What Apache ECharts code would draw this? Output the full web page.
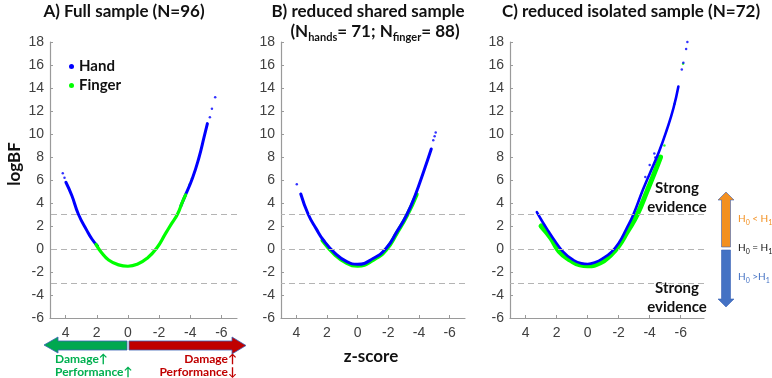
<!DOCTYPE html>
<html>
<head>
<meta charset="utf-8">
<script src="https://cdn.jsdelivr.net/npm/echarts@6/dist/echarts.min.js"></script>
<style>
  html, body { margin: 0; padding: 0; background: #fff; }
  #chart { width: 772px; height: 378px; }
</style>
</head>
<body>
<div id="chart"></div>
<script>
// tick labels
const xTicks = [4, 2, 0, -2, -4, -6]
const guideLines = [3, 0, -3]

// A) full sample  [z-score, logBF]
const handA = [[3.98, 5.8], [3.6, 4.65], [3.17, 3.0], [2.63, 1.6], [2.3, 0.85], [1.95, 0.25]]
const handA2 = [[-3.4, 3.75], [-3.6, 4.4], [-4.14, 6.15], [-4.57, 8.0], [-4.89, 9.75], [-5.1, 10.9]]
const handDotsA = [[4.18, 6.58], [4.07, 6.2], [-5.26, 11.45], [-5.39, 12.2], [-5.6, 13.2]]
const fingerA = [[2.05, 0.4], [1.7, -0.3], [1.24, -0.95], [0.6, -1.38], [0, -1.5], [-0.6, -1.33], [-1.24, -0.8], [-1.84, 0.06], [-2.42, 1.36], [-2.8, 2.2], [-3.17, 3.0], [-3.5, 4.1], [-3.7, 4.7]]
const fingerDotsA = [[-3.95, 5.6], [-4.1, 6.1]]

// B) reduced shared sample
const handB = [[3.71, 4.78], [3.22, 3.0], [2.7, 1.75], [2.24, 0.78], [1.47, -0.38], [0.71, -1.1], [0, -1.33], [-1.03, -0.81], [-1.86, 0.06], [-2.56, 1.51], [-3.21, 3.0], [-3.76, 4.7], [-4.3, 6.72], [-4.8, 8.7]]
const handDotsB = [[3.97, 5.62], [-4.93, 9.45], [-5.02, 9.8], [-5.09, 10.14]]
const fingerB = [[2.3, 0.75], [1.47, -0.5], [0.71, -1.22], [0, -1.45], [-1.03, -0.93], [-1.86, -0.05], [-2.56, 1.4], [-3.21, 2.9], [-3.85, 4.75]]

// C) reduced isolated sample
const handC = [[3.27, 3.2], [2.9, 2.35], [2.5, 1.5], [2.16, 0.8], [1.6, -0.2], [1.0, -0.88], [0.4, -1.25], [0, -1.3], [-0.5, -1.15], [-1.0, -0.8], [-1.5, -0.3], [-2.0, 0.5], [-2.5, 1.75], [-2.95, 3.0], [-3.55, 5.1], [-4.05, 6.7], [-4.6, 8.45], [-5.1, 10.35], [-5.53, 12.24], [-5.85, 14.13]]
const handDotsC = [[-3.72, 6.27], [-4.0, 7.3], [-4.3, 8.3], [-4.36, 7.95], [-6.07, 15.6], [-6.17, 16.2], [-6.35, 17.4], [-6.43, 18.0]]
const fingerC = [[3.0, 2.0], [2.37, 0.95], [1.84, -0.2], [1.09, -1.0], [0.5, -1.38], [0, -1.45], [-0.83, -1.2], [-1.47, -0.55], [-2.0, 0.25], [-2.54, 1.45], [-3.2, 3.0], [-3.85, 5.1], [-4.3, 6.6], [-4.7, 8.0]]
const fingerDotsC = [[-4.95, 9.0], [-5.6, 12.6], [-6.15, 16.1]]

const BLUE = '#0000ff'
const GREEN = '#00ff00'
const TXT = 'Lato, "Open Sans", sans-serif'
const NUM = '"Liberation Sans", Arial, sans-serif'

const chart = echarts.init(document.getElementById('chart'), null, { renderer: 'canvas' })

function xAxis(idx, min) {
  return {
    gridIndex: idx, type: 'value', min: min, max: 5, inverse: true,
    axisLine: { show: true, onZero: false, lineStyle: { color: '#9a9a9a', width: 1.2 } },
    axisTick: { show: true, inside: true, length: 3, customValues: xTicks, lineStyle: { color: '#9a9a9a' } },
    axisLabel: { customValues: xTicks, color: '#404040', fontSize: 14, fontFamily: NUM, margin: 8 },
    splitLine: { show: false }
  }
}

function yAxis(idx) {
  return {
    gridIndex: idx, type: 'value', min: -6, max: 18, interval: 2,
    axisLine: { show: true, onZero: false, lineStyle: { color: '#9a9a9a', width: 1.2 } },
    axisTick: { show: true, inside: true, length: 3, lineStyle: { color: '#9a9a9a' } },
    axisLabel: { color: '#404040', fontSize: 14, fontFamily: NUM, margin: 6 },
    splitLine: { show: false }
  }
}

function line(name, data, idx, color, width) {
  return {
    name, type: 'line', xAxisIndex: idx, yAxisIndex: idx, data,
    smooth: true, showSymbol: false, silent: true,
    lineStyle: { color, width, cap: 'round' }, itemStyle: { color }
  }
}

function dots(name, data, idx, color, size) {
  return {
    name, type: 'scatter', xAxisIndex: idx, yAxisIndex: idx, data,
    symbolSize: size, silent: true, itemStyle: { color }
  }
}

// grey dashed guides at +-3 and 0
function guides() {
  return {
    silent: true, symbol: 'none', label: { show: false },
    lineStyle: { type: [6, 4], color: '#b4b4b4', width: 1 },
    data: guideLines.map(v => ({ yAxis: v }))
  }
}

function text(str, x, y, size, color, extra) {
  return {
    type: 'text', x, y, silent: true,
    rotation: extra && extra.rotation || 0,
    style: Object.assign({
      text: str, fontSize: size, fontWeight: 'bold', fontFamily: TXT, fill: color,
      align: 'center', verticalAlign: 'middle'
    }, extra && extra.style)
  }
}

// rich styles for text with subscripts
function sub(size, subSize, weight) {
  return {
    m: { fontSize: size, lineHeight: size + 5, fontFamily: TXT, fontWeight: weight },
    s: { fontSize: subSize, lineHeight: subSize + 1, verticalAlign: 'bottom', fontFamily: TXT, fontWeight: weight }
  }
}

const seriesA = [
  Object.assign(line('Hand', handA, 0, BLUE, 3), { markLine: guides() }),
  line('Hand', handA2, 0, BLUE, 3),
  dots('Hand', handDotsA, 0, BLUE, 2.5),
  line('Finger', fingerA, 0, GREEN, 3.2),
  dots('Finger', fingerDotsA, 0, GREEN, 2.5)
]
const seriesB = [
  Object.assign(line('Finger', fingerB, 1, GREEN, 4), { markLine: guides() }),
  line('Hand', handB, 1, BLUE, 3),
  dots('Hand', handDotsB, 1, BLUE, 2.5)
]
const seriesC = [
  Object.assign(line('Finger', fingerC, 2, GREEN, 5), { markLine: guides() }),
  dots('Finger', fingerDotsC, 2, GREEN, 2.5),
  line('Hand', handC, 2, BLUE, 2.6),
  dots('Hand', handDotsC, 2, BLUE, 2.5)
]

const option = {
  animation: false,
  backgroundColor: '#fff',
  grid: [
    { left: 50, top: 42, width: 187, height: 276 },
    { left: 281, top: 42, width: 184, height: 276 },
    { left: 510, top: 42, width: 194, height: 276 }
  ],
  xAxis: [xAxis(0, -7), xAxis(1, -7), xAxis(2, -7.5)],
  yAxis: [yAxis(0), yAxis(1), yAxis(2)],
  legend: {
    data: ['Hand', 'Finger'], orient: 'vertical', left: 64, top: 54,
    icon: 'circle', itemWidth: 5, itemHeight: 5, itemGap: 4, selectedMode: false,
    textStyle: { fontSize: 15, fontWeight: 'bold', fontFamily: TXT, color: '#111', lineHeight: 15 }
  },
  series: seriesA.concat(seriesB, seriesC),
  graphic: [
    text('A) Full sample (N=96)', 124, 12, 17, '#111'),
    text('B) reduced shared sample', 368, 12, 17, '#111'),
    {
      type: 'text', x: 375, y: 32, silent: true,
      style: {
        text: '{m|(N}{s|hands}{m|= 71; N}{s|finger}{m|= 88)}',
        fill: '#111', align: 'center', verticalAlign: 'middle',
        rich: sub(17, 11, 'bold')
      }
    },
    text('C) reduced isolated sample (N=72)', 631, 12, 17, '#111'),
    text('logBF', 15, 164, 17, '#111', { rotation: Math.PI / 2 }),
    text('z-score', 371, 357, 17, '#111'),

    // direction arrows under panel A
    {
      type: 'polygon', silent: true,
      shape: { points: [[44, 345], [58, 337], [58, 341], [127, 341], [127, 350], [58, 350], [58, 353]] },
      style: { fill: '#00a850', stroke: '#3b63b5', lineWidth: 0.8 }
    },
    {
      type: 'polygon', silent: true,
      shape: { points: [[129, 341], [232, 341], [232, 337], [246, 345.5], [232, 354], [232, 350], [129, 350]] },
      style: { fill: '#c00000', stroke: '#3b63b5', lineWidth: 0.8 }
    },
    text('Damage↑', 55, 359, 12, '#00b050', { style: { align: 'left' } }),
    text('Performance↑', 55, 372, 12, '#00b050', { style: { align: 'left' } }),
    text('Damage↑', 237, 359, 12, '#c00000', { style: { align: 'right' } }),
    text('Performance↓', 237, 372, 12, '#c00000', { style: { align: 'right' } }),

    // evidence legend on the right
    text('Strong\nevidence', 677, 198, 15, '#111', { style: { lineHeight: 19 } }),
    text('Strong\nevidence', 677, 298, 15, '#111', { style: { lineHeight: 19 } }),
    {
      type: 'polygon', silent: true,
      shape: { points: [[726, 192], [734, 200], [730.5, 200], [730.5, 247], [721.5, 247], [721.5, 200], [718, 200]] },
      style: { fill: '#f39020', stroke: '#3b63b5', lineWidth: 0.6 }
    },
    {
      type: 'polygon', silent: true,
      shape: { points: [[721.5, 250], [730.5, 250], [730.5, 299], [734, 299], [726, 307], [718, 299], [721.5, 299]] },
      style: { fill: '#4472c4', stroke: '#3b63b5', lineWidth: 0.6 }
    },
    {
      type: 'text', x: 738, y: 219, silent: true,
      style: { text: '{m|H}{s|0}{m| < H}{s|1}', fill: '#f39020', align: 'left', verticalAlign: 'middle', rich: sub(10, 7, 'normal') }
    },
    {
      type: 'text', x: 738, y: 248, silent: true,
      style: { text: '{m|H}{s|0}{m| = H}{s|1}', fill: '#111', align: 'left', verticalAlign: 'middle', rich: sub(10, 7, 'normal') }
    },
    {
      type: 'text', x: 738, y: 277, silent: true,
      style: { text: '{m|H}{s|0}{m| >H}{s|1}', fill: '#4472c4', align: 'left', verticalAlign: 'middle', rich: sub(10, 7, 'normal') }
    }
  ]
}

chart.setOption(option)
</script>
</body>
</html>
